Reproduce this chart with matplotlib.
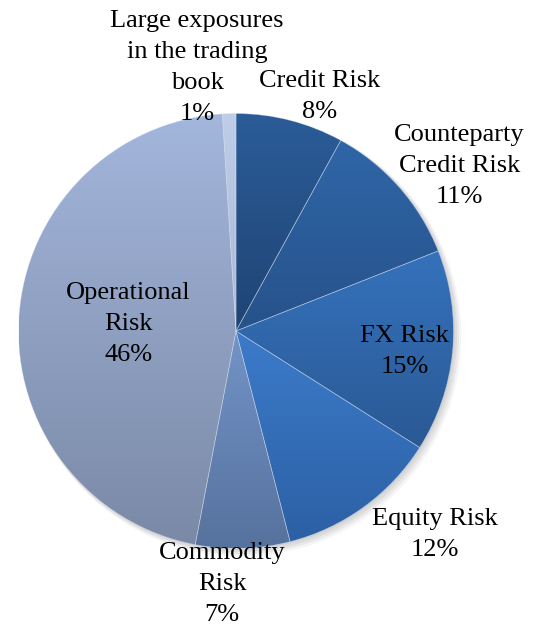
import numpy as np
import matplotlib
matplotlib.use("Agg")
import matplotlib.pyplot as plt
from matplotlib.colors import LinearSegmentedColormap
from matplotlib.patches import Circle

# data
labels = ["Credit Risk", "Counteparty\nCredit Risk", "FX Risk", "Equity Risk",
          "Commodity\nRisk", "Operational\nRisk", "Large exposures\nin the trading\nbook"]
shares = [8, 11, 15, 12, 7, 46, 1]

# gradient colours per slice (top, bottom)
colors_top = ["#2b5c98", "#2f66a8", "#3572bc", "#3c7bca", "#7394c8", "#a3b6dc", "#c0cde8"]
colors_bot = ["#1f4474", "#27528a", "#2a5994", "#2c60a4", "#56729e", "#7a89a6", "#a9b8d6"]

# label centres in pie units (radius = 1)
label_pos = [(0.385, 1.078), (1.028, 0.757), (0.775, -0.096), (0.913, -0.936),
             (-0.064, -1.162), (-0.495, 0.032), (-0.179, 1.213)]

plt.rcParams["font.family"] = ["Liberation Serif", "DejaVu Serif"]

W, H = 542, 628
cx, cy, R = 236, 331, 217.5
fig = plt.figure(figsize=(W / 100, H / 100), dpi=100)
ax = fig.add_axes([0, 0, 1, 1])
ax.axis("off")

# soft shadow
for i, a in enumerate([0.05, 0.05, 0.05, 0.04]):
    off = 0.006 * (i + 1)
    ax.add_patch(Circle((off, -off), 1.0 + 0.004 * i, color="black", alpha=a, lw=0, zorder=0))

wedges, _ = ax.pie(shares, startangle=90, counterclock=False, radius=1,
                   colors=colors_top,
                   wedgeprops=dict(edgecolor=(0.85, 0.89, 0.95, 0.45), linewidth=0.5))

grad = np.linspace(1, 0, 256).reshape(-1, 1)
for w, ct, cb in zip(wedges, colors_top, colors_bot):
    t1, t2 = sorted([w.theta1, w.theta2])
    th = np.deg2rad(np.linspace(t1, t2, 200))
    ys = np.concatenate([[0], np.sin(th)])
    xs = np.concatenate([[0], np.cos(th)])
    cmap = LinearSegmentedColormap.from_list("g", [cb, ct])
    im = ax.imshow(grad, cmap=cmap, extent=[xs.min(), xs.max(), ys.min(), ys.max()],
                   aspect="auto", zorder=2, interpolation="bilinear")
    im.set_clip_path(w)
    w.set_zorder(3)
    w.set_facecolor("none")

ax.set_xlim(-cx / R, (W - cx) / R)
ax.set_ylim(-(H - cy) / R, cy / R)
ax.set_aspect("equal")

# one text per line so the blocks sit close like the original
step = 22.3  # points between lines
for lab, s, (x, y) in zip(labels, shares, label_pos):
    lines = lab.split("\n") + [f"{s}%"]
    n = len(lines)
    for k, ln in enumerate(lines):
        dy = ((n - 1) / 2 - k) * step
        ax.annotate(ln, (x, y), xytext=(0, dy), textcoords="offset points",
                    ha="center", va="center", fontsize=19, color="black", zorder=5)

fig.savefig("out.png", dpi=100)
